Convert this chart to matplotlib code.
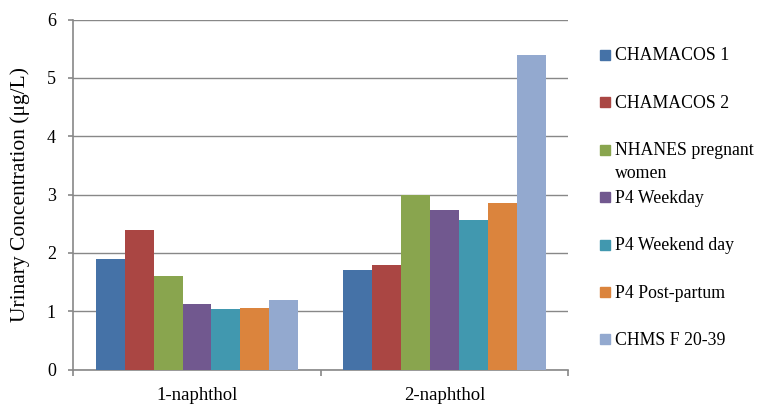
import matplotlib.pyplot as plt
import numpy as np
from matplotlib.patches import Rectangle

compounds = ['1-naphthol', '2-naphthol']
series = ['CHAMACOS 1', 'CHAMACOS 2', 'NHANES pregnant\nwomen', 'P4 Weekday',
          'P4 Weekend day', 'P4 Post-partum', 'CHMS F 20-39']
chamacos1 = [1.9, 1.7]
chamacos2 = [2.4, 1.8]
nhanes_preg = [1.6, 3.0]
p4_weekday = [1.13, 2.73]
p4_weekend = [1.04, 2.56]
p4_postpartum = [1.05, 2.85]
chms_f2039 = [1.2, 5.4]
values = [chamacos1, chamacos2, nhanes_preg, p4_weekday, p4_weekend, p4_postpartum, chms_f2039]
colors = ['#4572A7', '#AA4643', '#89A54E', '#71588F', '#4198AF', '#DB843D', '#93A9CF']

plt.rcParams['font.family'] = ['Liberation Serif', 'DejaVu Serif']

W, H = 769, 405
fig = plt.figure(figsize=(W / 100, H / 100), dpi=100)
ax = fig.add_axes([73.3 / W, 1 - 369.5 / H, (568 - 73.3) / W, (369.5 - 19.5) / H])

x = np.arange(len(compounds))
w = 0.117
for i, (vals, c) in enumerate(zip(values, colors)):
    ax.bar(x + (i - 3) * w, vals, width=w, color=c, edgecolor='none', zorder=3)

grid_c = '#888888'
ax.set_xlim(-0.5, 1.5)
ax.set_ylim(0, 6)
ax.set_yticks(range(7))
ax.yaxis.grid(True, color=grid_c, linewidth=1.0, zorder=0)
for s in ['top', 'right']:
    ax.spines[s].set_visible(False)
for s in ['left', 'bottom']:
    ax.spines[s].set_color(grid_c)
    ax.spines[s].set_linewidth(1.2)

ax.set_xticks(x)
ax.set_xticklabels(compounds, fontsize=13.5)
ax.set_xticks([-0.5, 0.5, 1.5], minor=True)
ax.tick_params(axis='x', which='major', length=0, pad=12.5)
ax.tick_params(axis='x', which='minor', length=4.5, width=1.2, color=grid_c)
ax.tick_params(axis='y', length=3.6, width=1.2, color=grid_c, labelsize=13, pad=9)

ax.set_ylabel('Urinary Concentration (μg/L)', fontsize=15.5)
ax.yaxis.set_label_coords(-0.087, 0.5)

# legend drawn by hand to keep the wrapped entry aligned like the original
y0, step, line_h = 55, 47.4, 23
for i, (lab, c) in enumerate(zip(series, colors)):
    yc = y0 + i * step
    fig.add_artist(Rectangle((600 / W, 1 - (yc + 5) / H), 10 / W, 10 / H,
                             transform=fig.transFigure, color=c))
    for k, line in enumerate(lab.split('\n')):
        fig.text(615 / W, 1 - (yc + 1 + k * line_h) / H, line, fontsize=12.8,
                 va='center', ha='left')

fig.savefig('out.png', dpi=100)
